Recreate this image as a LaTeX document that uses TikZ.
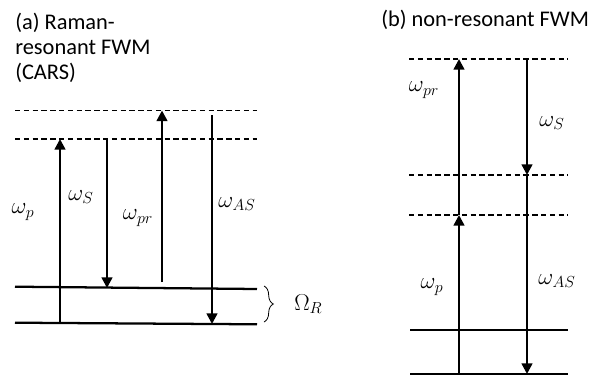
\documentclass[tikz,border=0pt]{standalone}
\usepackage{fontspec}
\setmainfont{Carlito}
\usetikzlibrary{arrows.meta,decorations.pathreplacing}
\begin{document}
\begin{tikzpicture}[x=0.75pt,y=-0.75pt,
  level/.style={line width=1.7pt},
  virt/.style={line width=0.8pt,dash pattern=on 4pt off 2.6pt},
  trans/.style={line width=1.8pt,-{Triangle[width=8pt,length=8pt]}},
  lbl/.style={font=\fontsize{18}{20}\selectfont,inner sep=0pt},
  title/.style={font=\fontsize{16.8}{18.75}\selectfont,inner sep=0pt,align=left}]
\useasboundingbox (0,0) rectangle (590,375);
% ---------- (a) ----------
\node[title,anchor=north west] (ta) at (15,13) {(a) Raman-\\resonant FWM\\(CARS)};
\coordinate (av1l) at (15,110.5); \coordinate (av1r) at (257,110.5);
\coordinate (av2l) at (15,139); \coordinate (av2r) at (257,139);
\coordinate (ag1l) at (15,286.7); \coordinate (ag1r) at (257,289);
\coordinate (ag0l) at (15,322.7); \coordinate (ag0r) at (257,324.3);
\draw[virt] (av1l) -- (av1r);
\draw[virt] (av2l) -- (av2r);
\draw[level] (ag1l) -- (ag1r);
\draw[level] (ag0l) -- (ag0r);
\coordinate (ap0) at (60,323.5); \coordinate (ap1) at (60,139);
\coordinate (as0) at (107,139); \coordinate (as1) at (107,288);
\coordinate (apr0) at (162,282); \coordinate (apr1) at (162,110.5);
\coordinate (aas0) at (212,115); \coordinate (aas1) at (212,324);
\draw[trans] (ap0) -- (ap1);
\draw[trans] (as0) -- (as1);
\draw[trans] (apr0) -- (apr1);
\draw[trans] (aas0) -- (aas1);
\node[lbl] (lap) at (23,212) {$\omega_p$};
\node[lbl] (las) at (81,197) {$\omega_S$};
\node[lbl] (lapr) at (138,218) {$\omega_{pr}$};
\node[lbl] (laas) at (237,204) {$\omega_{AS}$};
\coordinate (br0) at (264,286); \coordinate (br1) at (264,322);
\draw[line width=0.6pt,decorate,decoration={brace,amplitude=7pt}] (br0) -- (br1);
\node[lbl,anchor=west] (lor) at (294,304) {$\Omega_R$};
% ---------- (b) ----------
\node[title,anchor=north west] (tb) at (381,10) {(b) non-resonant FWM};
\coordinate (bv1l) at (409,59); \coordinate (bv1r) at (568,59);
\coordinate (bv2l) at (409,175); \coordinate (bv2r) at (568,175);
\coordinate (bv3l) at (409,215); \coordinate (bv3r) at (568,215);
\coordinate (bg1l) at (410,330); \coordinate (bg1r) at (568,330);
\coordinate (bg0l) at (410,374); \coordinate (bg0r) at (568,374);
\draw[virt] (bv1l) -- (bv1r);
\draw[virt] (bv2l) -- (bv2r);
\draw[virt] (bv3l) -- (bv3r);
\draw[level] (bg1l) -- (bg1r);
\draw[level] (bg0l) -- (bg0r);
\coordinate (bpr0) at (459,215); \coordinate (bpr1) at (459,59);
\coordinate (bs0) at (527,59); \coordinate (bs1) at (527,175);
\coordinate (bp0) at (459,375); \coordinate (bp1) at (459,215);
\coordinate (bas0) at (527,175); \coordinate (bas1) at (527,374);
\draw[trans] (bpr0) -- (bpr1);
\draw[trans] (bs0) -- (bs1);
\draw[trans] (bp0) -- (bp1);
\draw[trans] (bas0) -- (bas1);
\node[lbl] (lbpr) at (424,90) {$\omega_{pr}$};
\node[lbl] (lbs) at (552,123) {$\omega_S$};
\node[lbl] (lbp) at (432,287) {$\omega_p$};
\node[lbl] (lbas) at (557,281) {$\omega_{AS}$};
\end{tikzpicture}
\end{document}
